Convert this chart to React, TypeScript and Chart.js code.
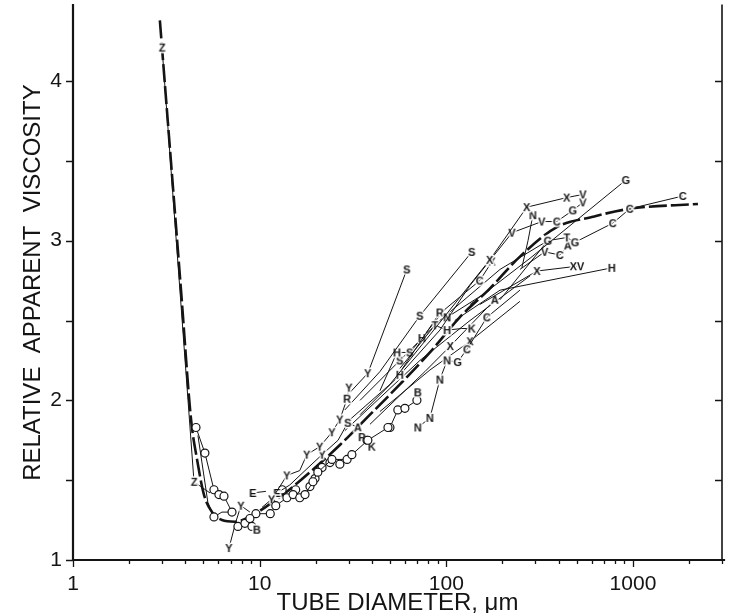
import React, { useEffect, useRef } from "react";
import { Chart, registerables } from "chart.js";

Chart.register(...registerables);

type Pt = [number, number, string];

// axis ticks / labels
const xTickLabels = [1, 10, 100, 1000];
const yTickLabels = [1, 2, 3, 4];
const yMinorTicks = [1.5, 2.5, 3.5];
const rightTicks = [1.5, 2, 2.5, 3, 3.5, 4];
const xMin = 1;
const xMax = 3000;
const yMin = 1;
const yMax = 4.475;

// fitted (dashed) curve: [diameter, relative viscosity]
const fitCurve: [number, number][] = [
  [2.92, 4.38], [3.31, 3.57], [3.79, 2.69], [4.29, 1.88], [4.62, 1.63],
  [5.03, 1.41], [5.56, 1.3], [6.28, 1.25], [7.37, 1.24], [8.87, 1.27],
  [10.7, 1.33], [13.7, 1.42], [18.6, 1.55], [26.9, 1.72], [39, 1.91],
  [56.4, 2.1], [81.7, 2.3], [118, 2.52], [171, 2.7], [248, 2.9],
  [391, 3.085], [610, 3.15], [962, 3.2], [2230, 3.23],
];

// experimental series: [diameter, relative viscosity, marker letter]
const zSeries: Pt[] = [[3.0, 4.21, "Z"], [4.45, 1.49, "Z"], [5.42, 1.42, ""]];
const oSeriesA: Pt[] = [[4.56, 1.83, "O"], [5.09, 1.67, "O"], [5.69, 1.44, "O"], [6.05, 1.41, "O"], [6.44, 1.4, "O"], [7.11, 1.3, "O"]];
const oSeriesB: Pt[] = [[4.67, 1.78, ""], [5.28, 1.36, ""], [5.69, 1.27, "O"], [6.28, 1.3, ""], [7.11, 1.3, ""]];
const oSeriesC: Pt[] = [[7.65, 1.21, "O"], [8.34, 1.23, "O"], [8.87, 1.26, "O"], [9.09, 1.21, "O"], [9.67, 1.19, "B"]];
const ySeriesA: Pt[] = [[6.85, 1.075, "Y"], [7.46, 1.24, ""], [7.94, 1.34, "Y"], [8.87, 1.3, ""]];
const eSeriesA: Pt[] = [[9.2, 1.42, "E"], [10.8, 1.43, ""]];
const oSeriesD: Pt[] = [[9.55, 1.29, "O"], [11.4, 1.29, "O"], [12.2, 1.34, "O"], [14.0, 1.39, "O"], [15.1, 1.41, "O"], [16.4, 1.39, "O"], [17.5, 1.41, "O"], [19.3, 1.49, "O"], [20.5, 1.55, "O"], [24.4, 1.63, "O"], [29.4, 1.63, "O"], [31.2, 1.66, "O"], [38.0, 1.75, "O"], [48.7, 1.83, "O"]];
const oLoose: Pt[] = [[13.2, 1.44, "O"], [15.6, 1.44, "O"], [18.6, 1.46, "O"], [19.8, 1.51, "O"], [21.6, 1.58, "O"], [23.8, 1.61, "O"], [26.9, 1.6, "O"]];
const ySeriesB: Pt[] = [[10.3, 1.33, ""], [11.6, 1.38, "Y"], [14.0, 1.53, "Y"], [16.4, 1.56, ""], [17.9, 1.66, "Y"], [21.0, 1.71, "Y"], [24.4, 1.8, "Y"], [26.9, 1.88, "Y"], [29.4, 2.01, "R"], [30.1, 2.08, "Y"]];
const eSeriesB: Pt[] = [[12.4, 1.42, "E"], [14.5, 1.47, ""], [17.5, 1.56, ""], [21.6, 1.66, "Y"], [26.3, 1.75, ""], [29.7, 1.86, "S"]];
const sSeriesA: Pt[] = [[30.5, 2.05, ""], [38.0, 2.17, "Y"], [61.5, 2.82, "S"]];
const sSeriesB: Pt[] = [[28.6, 1.94, ""], [44.1, 2.18, ""], [72.2, 2.53, "S"], [137, 2.93, "S"]];
const xSeriesA: Pt[] = [[30.5, 1.88, ""], [49.9, 2.1, ""], [81.7, 2.41, ""], [171, 2.88, "X"], [270, 3.21, "X"], [442, 3.27, "X"], [540, 3.29, "V"]];
const nSeriesA: Pt[] = [[291, 3.16, "N"], [274, 3.0, ""], [254, 2.83, ""]];
const vSeriesA: Pt[] = [[34.5, 1.91, ""], [56.4, 2.16, "H"], [92.4, 2.44, ""], [134, 2.72, ""], [225, 3.05, "V"], [325, 3.12, "V"], [391, 3.12, "C"], [476, 3.19, "G"], [540, 3.24, "V"]];
const gSeriesA: Pt[] = [[134, 2.6, ""], [281, 2.89, ""], [916, 3.38, "G"]];
const cSeriesA: Pt[] = [[962, 3.2, "C"], [1850, 3.28, "C"]];
const cSeriesB: Pt[] = [[194, 2.63, ""], [350, 3.0, "G"], [442, 3.02, "T"], [489, 2.99, "G"], [780, 3.11, "C"], [962, 3.2, ""]];
const hSeriesA: Pt[] = [[111, 2.5, ""], [194, 2.69, ""], [771, 2.83, "H"]];
const xSeriesB: Pt[] = [[151, 2.6, ""], [306, 2.81, "X"], [501, 2.84, "XV"]];
const cSeriesC: Pt[] = [[248, 2.82, ""], [337, 2.93, "V"], [406, 2.91, "C"], [448, 2.97, "A"]];
const nSeriesB: Pt[] = [[70.4, 1.83, "N"], [81.7, 1.89, "N"], [92.4, 2.13, "N"], [101, 2.25, "N"], [115, 2.24, "G"], [129, 2.32, "C"], [165, 2.52, "C"], [248, 2.69, ""]];
const tSeriesA: Pt[] = [[56.4, 2.2, ""], [86.9, 2.47, "T"], [101, 2.44, "H"], [121, 2.45, ""], [137, 2.45, "K"]];
const rSeriesA: Pt[] = [[53.1, 2.13, ""], [92.4, 2.55, "R"], [101, 2.52, "N"], [171, 2.69, ""]];
const hSeriesB: Pt[] = [[44.1, 2.06, ""], [54.4, 2.3, "H"], [63.8, 2.3, "S"], [74.0, 2.39, "H"], [98.3, 2.57, ""], [151, 2.75, "C"], [176, 2.87, "X"]];
const aSeriesA: Pt[] = [[39.0, 1.85, ""], [56.4, 2.03, ""], [76.8, 2.18, ""], [105, 2.34, "X"], [182, 2.63, "A"]];
const oSeriesE: Pt[] = [[49.9, 1.83, "O"], [55.0, 1.94, "O"], [60.0, 1.95, "O"], [69.6, 2.0, "O"], [70.4, 2.05, "B"]];
const pSeriesA: Pt[] = [[29.7, 1.86, "S"], [33.6, 1.83, "A"], [35.3, 1.77, "P"], [37.6, 1.75, "O"], [39.9, 1.71, "K"]];
const mSeriesA: Pt[] = [[28.6, 1.81, ""], [72.2, 2.25, ""], [134, 2.5, ""], [281, 2.78, ""]];
const mSeriesB: Pt[] = [[34.5, 2.0, ""], [56.4, 2.25, "S"], [92.4, 2.5, ""], [194, 2.82, ""], [350, 3.0, ""]];
const mSeriesC: Pt[] = [[44.1, 1.93, ""], [81.7, 2.19, ""], [134, 2.37, "X"], [248, 2.62, ""]];

const lineSeries: Pt[][] = [
  zSeries, oSeriesA, oSeriesB, oSeriesC, ySeriesA, eSeriesA, oSeriesD, ySeriesB, eSeriesB,
  sSeriesA, sSeriesB, xSeriesA, nSeriesA, vSeriesA, gSeriesA, cSeriesA, cSeriesB, hSeriesA,
  xSeriesB, cSeriesC, nSeriesB, tSeriesA, rSeriesA, hSeriesB, aSeriesA, oSeriesE, pSeriesA,
  mSeriesA, mSeriesB, mSeriesC,
];
const pointOnlySeries: Pt[][] = [oLoose];

const FONT = '"Liberation Sans", Arial, Helvetica, sans-serif';
const INK = "#141414";

function letterCanvas(txt: string): HTMLCanvasElement {
  const c = document.createElement("canvas");
  const w = txt.length > 1 ? 22 : 13;
  const h = 14;
  c.width = w;
  c.height = h;
  const g = c.getContext("2d")!;
  g.font = `bold 11px ${FONT}`;
  g.textAlign = "center";
  g.textBaseline = "middle";
  g.lineJoin = "round";
  g.strokeStyle = "#ffffff";
  g.lineWidth = 3;
  g.strokeText(txt, w / 2, h / 2 + 1);
  g.fillStyle = INK;
  g.fillText(txt, w / 2, h / 2 + 1);
  return c;
}

const axesPlugin = {
  id: "axesPlugin",
  afterDraw(chart: any) {
    const { ctx, chartArea: a, scales } = chart;
    const x = scales.x;
    const y = scales.y;
    ctx.save();
    ctx.strokeStyle = INK;
    ctx.lineCap = "square";
    ctx.lineWidth = 2.2;
    ctx.beginPath();
    ctx.moveTo(a.left, a.top);
    ctx.lineTo(a.left, a.bottom);
    ctx.lineTo(a.right + 2, a.bottom);
    ctx.stroke();
    ctx.lineWidth = 1.6;
    ctx.beginPath();
    ctx.moveTo(a.right, a.top);
    ctx.lineTo(a.right, a.bottom);
    ctx.stroke();
    ctx.lineWidth = 1.3;
    ctx.lineCap = "butt";
    ctx.beginPath();
    [...yTickLabels, ...yMinorTicks].forEach((v) => {
      const py = Math.round(y.getPixelForValue(v)) + 0.5;
      ctx.moveTo(a.left - 7, py);
      ctx.lineTo(a.left, py);
    });
    rightTicks.forEach((v) => {
      const py = Math.round(y.getPixelForValue(v)) + 0.5;
      ctx.moveTo(a.right - 7, py);
      ctx.lineTo(a.right, py);
    });
    xTickLabels.forEach((d) => {
      for (let m = 1; m <= 9; m++) {
        const v = m * d;
        if (v > xMax) break;
        const px = Math.round(x.getPixelForValue(v)) + 0.5;
        ctx.moveTo(px, a.bottom);
        ctx.lineTo(px, a.bottom + (m === 1 ? 7 : 4));
      }
    });
    ctx.stroke();
    ctx.restore();
  },
};

export default function App() {
  const ref = useRef<HTMLCanvasElement | null>(null);

  useEffect(() => {
    if (!ref.current) return;
    const cache: Record<string, HTMLCanvasElement> = {};
    const styleFor = (l: string): any => {
      if (l === "" || l === "O") return "circle";
      if (!cache[l]) cache[l] = letterCanvas(l);
      return cache[l];
    };
    const mk = (pts: Pt[], showLine: boolean) => ({
      data: pts.map((p) => ({ x: p[0], y: p[1] })),
      showLine,
      borderColor: INK,
      borderWidth: 1,
      tension: 0,
      pointStyle: pts.map((p) => styleFor(p[2])),
      pointRadius: pts.map((p) => (p[2] === "" ? 0 : 4)),
      pointBackgroundColor: "#ffffff",
      pointBorderColor: INK,
      pointBorderWidth: 1.2,
    });

    const datasets: any[] = [
      ...lineSeries.map((s) => mk(s, true)),
      ...pointOnlySeries.map((s) => mk(s, false)),
      {
        data: fitCurve.map((p) => ({ x: p[0], y: p[1] })),
        showLine: true,
        borderColor: INK,
        borderWidth: 2.6,
        borderDash: [18, 4],
        pointRadius: 0,
        cubicInterpolationMode: "monotone",
      },
    ];

    const isPow10 = (v: number) => Math.abs(Math.log10(v) - Math.round(Math.log10(v))) < 1e-9;

    const chart = new Chart(ref.current, {
      type: "scatter",
      data: { datasets },
      plugins: [axesPlugin],
      options: {
        animation: false,
        responsive: false,
        events: [],
        layout: { padding: { top: 5, right: 12, left: 0, bottom: 0 } },
        plugins: { legend: { display: false }, tooltip: { enabled: false } },
        scales: {
          x: {
            type: "logarithmic",
            min: xMin,
            max: xMax,
            grid: { display: false, drawTicks: false },
            border: { display: false },
            afterFit: (s: any) => {
              s.height = 62;
              s.paddingLeft = 0;
              s.paddingRight = 0;
            },
            ticks: {
              autoSkip: false,
              maxRotation: 0,
              padding: 12,
              color: INK,
              font: { family: FONT, size: 21 },
              callback: (v: any) => (isPow10(Number(v)) && xTickLabels.includes(Math.round(Number(v))) ? String(Math.round(Number(v))) : ""),
            },
            title: {
              display: true,
              text: "TUBE DIAMETER, μm",
              color: INK,
              font: { family: FONT, size: 24 },
              padding: { top: 0, bottom: 4 },
            },
          },
          y: {
            type: "linear",
            min: yMin,
            max: yMax,
            grid: { display: false, drawTicks: false },
            border: { display: false },
            afterFit: (s: any) => {
              s.width = 73;
              s.paddingTop = 0;
              s.paddingBottom = 0;
            },
            ticks: {
              stepSize: 1,
              includeBounds: false,
              padding: 11,
              color: INK,
              font: { family: FONT, size: 21 },
              callback: (v: any) => (yTickLabels.includes(Number(v)) ? String(v) : ""),
            },
            title: {
              display: true,
              text: "RELATIVE  APPARENT  VISCOSITY",
              color: INK,
              font: { family: FONT, size: 24 },
              padding: { top: 19, bottom: 0 },
            },
          },
        },
      } as any,
    });
    return () => chart.destroy();
  }, []);

  return (
    <div style={{ position: "fixed", left: 0, top: 0, width: 734, height: 613, overflow: "hidden", background: "#fff" }}>
      <canvas ref={ref} width={734} height={622} style={{ display: "block" }} />
    </div>
  );
}
